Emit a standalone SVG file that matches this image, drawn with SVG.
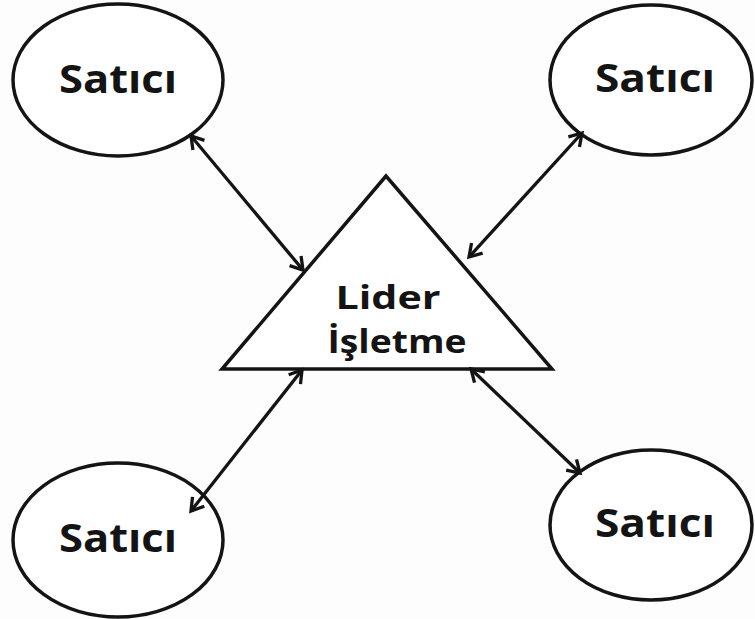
<svg xmlns="http://www.w3.org/2000/svg" width="755" height="619" viewBox="0 0 755 619">
<style>
.node{fill:#ffffff;stroke:#141414;stroke-width:3.5}
.lbl{font-family:"Open Sans","Noto Sans","DejaVu Sans",sans-serif;font-weight:700;font-size:39px;fill:#141414;text-anchor:middle}
.mid{font-size:32px}
.con{fill:none;stroke:#141414;stroke-width:3.3;marker-start:url(#ah);marker-end:url(#ah)}
</style>
<defs>
<marker id="ah" markerUnits="userSpaceOnUse" markerWidth="22" markerHeight="22" viewBox="0 0 22 22" refX="16" refY="9" orient="auto-start-reverse">
<path d="M4,1.5 L16,9 L4,16.5" fill="none" stroke="#141414" stroke-width="3.3" stroke-linejoin="miter"/>
</marker>
</defs>
<rect width="755" height="619" fill="#fdfdfd"/>
<g id="n-lider">
<polygon class="node" points="386,176 222,369 552,369"/>
<text class="lbl mid" x="388" y="309" textLength="105" lengthAdjust="spacingAndGlyphs">Lider</text>
<text class="lbl mid" x="397" y="353" textLength="139" lengthAdjust="spacingAndGlyphs">İşletme</text>
</g>
<g id="n-satici-tl">
<ellipse class="node" cx="118" cy="80" rx="105" ry="76"/>
<text class="lbl" x="118" y="93" textLength="118" lengthAdjust="spacingAndGlyphs">Satıcı</text>
</g>
<g id="n-satici-tr">
<ellipse class="node" cx="651" cy="80" rx="101" ry="75"/>
<text class="lbl" x="655" y="92" textLength="120" lengthAdjust="spacingAndGlyphs">Satıcı</text>
</g>
<g id="n-satici-bl">
<ellipse class="node" cx="118" cy="540" rx="105" ry="77"/>
<text class="lbl" x="118" y="552" textLength="118" lengthAdjust="spacingAndGlyphs">Satıcı</text>
</g>
<g id="n-satici-br">
<ellipse class="node" cx="651" cy="525" rx="101" ry="75"/>
<text class="lbl" x="655" y="537" textLength="120" lengthAdjust="spacingAndGlyphs">Satıcı</text>
</g>
<g id="connectors">
<line class="con" x1="191" y1="136" x2="303" y2="270"/>
<line class="con" x1="582" y1="133" x2="469" y2="257"/>
<line class="con" x1="302" y1="370" x2="191" y2="511"/>
<line class="con" x1="471" y1="369" x2="580" y2="473"/>
</g>
</svg>
